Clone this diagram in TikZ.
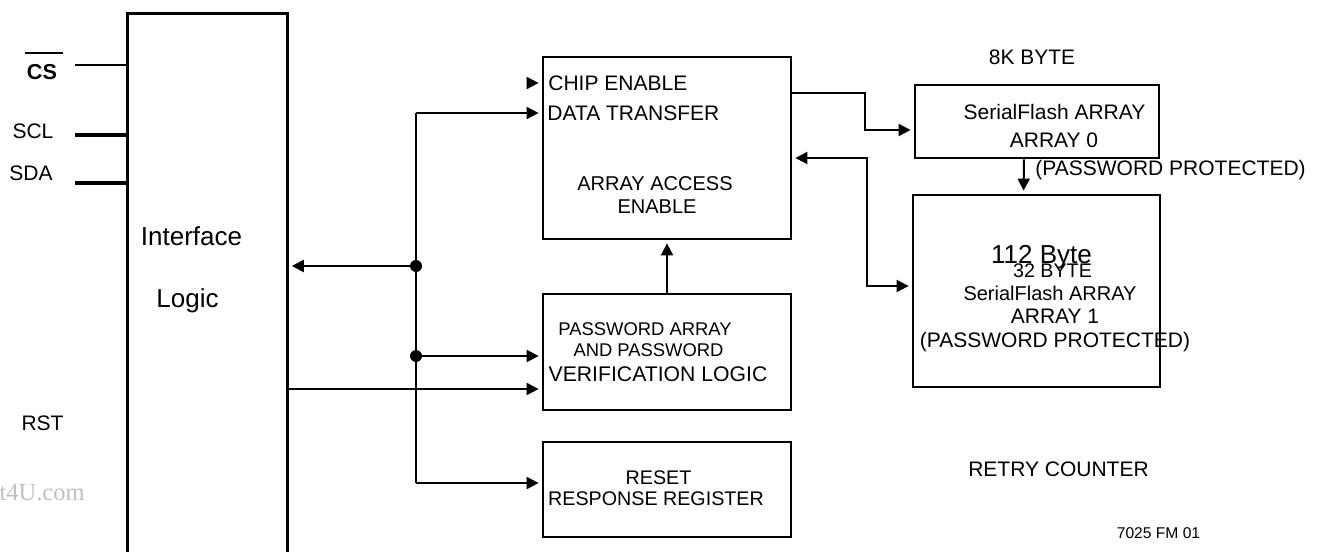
\documentclass[tikz,border=0pt]{standalone}
\usepackage{fontspec}
\setmainfont{Liberation Sans}
\newfontfamily\wmfont{Liberation Serif}
\usetikzlibrary{positioning,calc,arrows.meta}
\tikzset{>={Triangle[length=6pt,width=6pt]}}
\tikzset{
  box/.style={draw,line width=1.4pt,inner sep=0pt},
  wire/.style={line width=1pt},
  feed/.style={wire,->,shorten >=1.5pt},
  bus/.style={line width=2.2pt},
  lbl/.style={inner sep=0pt,anchor=base,font=\fontsize{#1}{14}\selectfont},
  lbl/.default=10.5
}

\begin{document}
\begin{tikzpicture}[x=0.5pt,y=-0.5pt]
\useasboundingbox (0,0) rectangle (1326,551);
\clip (0,0) rectangle (1326,551);

% Blocks
\node[box,anchor=north west,minimum width=80pt,minimum height=300pt] (il) at (126,12) {};
\node[box,minimum width=124pt,minimum height=91pt] (access) at (667,148) {};
\node[box,minimum width=124pt,minimum height=58pt] (pwd) at (667,352) {};
\node[box,minimum width=124pt,minimum height=47.5pt] (reset) at (667,489.5) {};
\node[box,minimum width=122pt,minimum height=36.5pt] (arr0) at (1037,121.5) {};
\node[box,minimum width=123.5pt,minimum height=96pt] (arr1) at (1036.5,291) {};

% Pins
\coordinate (cs) at (75,65);
\coordinate (scl) at (75,135);
\coordinate (sda) at (75,183);
\draw[wire] (cs) -- (cs -| il.west);
\draw[bus] (scl) -- (scl -| il.west);
\draw[bus] (sda) -- (sda -| il.west);

% Internal bus
\coordinate (jt) at (416,113);
\coordinate (j1) at (416,266);
\coordinate (j2) at (416,356);
\coordinate (jb) at (416,483);
\coordinate (ilo) at (286,389);
\coordinate (ce) at (527,83);

\draw[wire] (jt) -- (jb);
\draw[feed] (jt) -- (jt -| access.west);
\draw[feed] (ce) -- (ce -| access.west);
\draw[feed] (j1) -- (j1 -| il.east);
\draw[feed] (j2) -- (j2 -| pwd.west);
\draw[feed] (ilo) -- (ilo -| pwd.west);
\draw[feed] (jb) -- (jb -| reset.west);
\draw[feed] (pwd.north) -- (access.south);
\fill (j1) circle (3pt);
\fill (j2) circle (3pt);

% Array paths
\coordinate (t0) at (865,93);
\coordinate (t1) at (867,158);
\draw[feed] (access.east |- t0) -- (t0) |- ([yshift=-4.25pt]arr0.west);
\draw[feed,<->,shorten <=1.5pt] (access.east |- t1) -- (t1) |- ([yshift=2.5pt]arr1.west);
\draw[feed] ([xshift=-6.5pt]arr0.south) -- ([xshift=-6.5pt]arr1.north);

% Left labels
\node[lbl,font=\fontsize{10.8}{14}\selectfont\bfseries] (csl) at (42,80) {CS};
\draw[wire] ([shift={(-1pt,5.75pt)}]csl.north west) -- ([shift={(3pt,5.75pt)}]csl.north east);
\node[lbl] (scll) at (33,138) {SCL};
\node[lbl] (sdal) at (31,180) {SDA};
\node[lbl] (rstl) at (42.5,430) {RST};
\node[lbl,anchor=base east,font=\wmfont\fontsize{12.25}{14}\selectfont,text=black!25] (wm) at (85,500) {t4U.com};
\node[lbl=13] (ilt1) at (191.5,245) {Interface};
\node[lbl=13] (ilt2) at (187.5,307) {Logic};

% Middle labels
\node[lbl,anchor=base west] (cet) at (548,90.5) {CHIP ENABLE};
\node[lbl,anchor=base west] (dtt) at (547,120.5) {DATA TRANSFER};
\node[lbl=10] (aat1) at (655,190) {ARRAY ACCESS};
\node[lbl=10] (aat2) at (657,213) {ENABLE};
\node[lbl=9.2] (pwt1) at (645,335.6) {PASSWORD ARRAY};
\node[lbl=9.2] (pwt2) at (648.5,356.6) {AND PASSWORD};
\node[lbl=10.6] (pwt3) at (658,381.6) {VERIFICATION LOGIC};
\node[lbl=9.85] (rst1) at (658.5,484) {RESET};
\node[lbl=9.85] (rst2) at (656,505) {RESPONSE REGISTER};

% Right labels
\node[lbl] (a0t0) at (1032,64.5) {8K BYTE};
\node[lbl] (a0t1) at (1054.5,119.5) {SerialFlash ARRAY};
\node[lbl] (a0t2) at (1054,147.5) {ARRAY 0};
\node[lbl,anchor=base west] (a0t3) at (1035,175.5) {(PASSWORD PROTECTED)};
\node[lbl=13] (a1t0) at (1041.5,263) {112 Byte};
\node[lbl=9.85] (a1t1) at (1052.5,277) {32 BYTE};
\node[lbl=10] (a1t2) at (1050,300) {SerialFlash ARRAY};
\node[lbl] (a1t3) at (1055,323) {ARRAY 1};
\node[lbl] (a1t4) at (1055,347) {(PASSWORD PROTECTED)};
\node[lbl] (rct) at (1058.5,476) {RETRY COUNTER};
\node[lbl=7.8] (fmt) at (1158.5,538) {7025 FM 01};

\end{tikzpicture}
\end{document}
